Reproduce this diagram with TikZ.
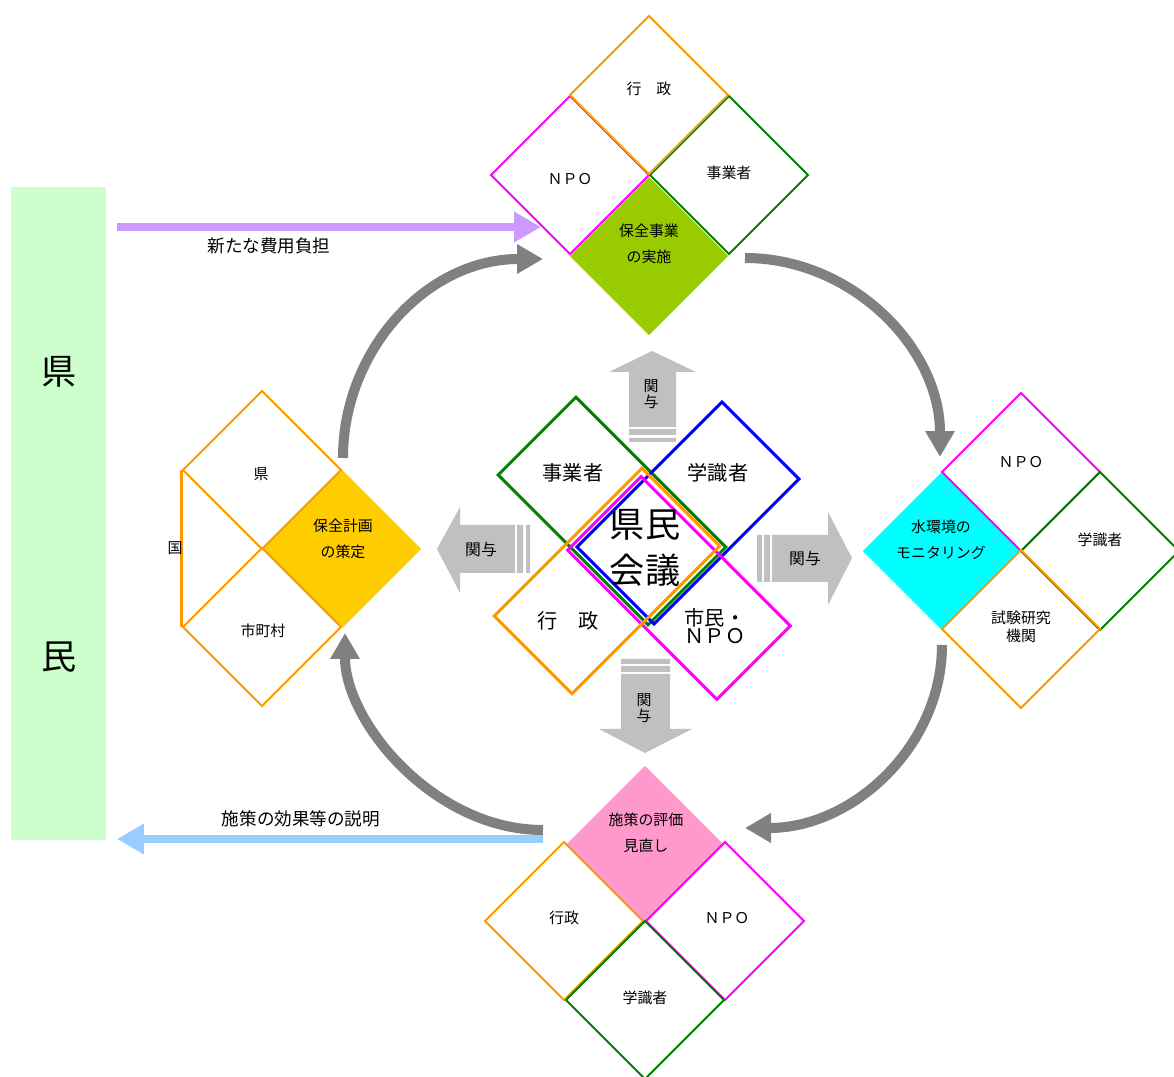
\documentclass[tikz,border=0pt]{standalone}
\usepackage{fontspec}
\setmainfont{Noto Sans CJK JP}
\usetikzlibrary{shapes.geometric,arrows.meta}
\definecolor{gorange}{HTML}{FF9900}
\definecolor{gmagenta}{HTML}{FF00FF}
\definecolor{ggreen}{HTML}{008000}
\definecolor{gblue}{HTML}{0000FF}
\definecolor{fgreen}{HTML}{99CC00}
\definecolor{fyellow}{HTML}{FFCC00}
\definecolor{fcyan}{HTML}{00FFFF}
\definecolor{fpink}{HTML}{FF99CC}
\definecolor{barmint}{HTML}{CCFFCC}
\definecolor{kgray}{HTML}{C0C0C0}
\definecolor{agray}{HTML}{808080}
\definecolor{fpurple}{HTML}{CC99FF}
\definecolor{fsky}{HTML}{99CCFF}

\begin{document}
\begin{tikzpicture}[x=0.02cm, y=-0.02cm,
    dia/.style={diamond, aspect=1, inner sep=0pt, minimum width=3.18cm,
        minimum height=3.18cm, line width=1.1pt},
    cbox/.style={rectangle, inner sep=0pt, line width=1.7pt},
    lbl/.style={inner sep=0pt, align=center, font=\fontsize{8.5}{14.7}\selectfont},
    clbl/.style={inner sep=0pt, align=center, font=\fontsize{11.5}{10.5}\selectfont},
    kanyo/.style={fill=kgray},
    klbl/.style={inner sep=0pt, align=center, font=\fontsize{9}{9}\selectfont},
    garc/.style={draw=agray, line width=5.7pt, -{Triangle[length=0.52cm,width=0.56cm]}},
    flow/.style={line width=5.1pt, -{Triangle[length=0.54cm,width=0.58cm]}},
    alb/.style={inner sep=0pt, font=\fontsize{10}{12}\selectfont}
]
    \path[use as bounding box, fill=white] (0,0) rectangle (1174,1077);

    % side bar
    \node[rectangle, fill=barmint, inner sep=0pt, minimum width=1.9cm,
        minimum height=13.06cm] (kenmin) at (58.5,513.5) {};
    \node[inner sep=0pt, font=\fontsize{20}{20}\selectfont] (l-ken) at (59,372) {県};
    \node[inner sep=0pt, font=\fontsize{20}{20}\selectfont] (l-min) at (59,657) {民};

    % top: 保全事業の実施
    \node[dia, fill=fgreen] (jisshi) at (649,256) {};
    \node[dia, draw=gmagenta] (npo1) at (570,175) {};
    \node[dia, draw=ggreen] (jigyo1) at (729,175) {};
    \node[dia, draw=gorange] (gyosei1) at (649,95) {};
    \node[lbl] (l-gyosei1) at (649,89) {行　政};
    \node[lbl] (l-npo1) at (570,179) {ＮＰＯ};
    \node[lbl] (l-jigyo1) at (729,173) {事業者};
    \node[lbl] (l-jisshi) at (649,244) {保全事業\\の実施};

    % left: 保全計画の策定
    \node[dia, fill=fyellow] (keikaku) at (342,549) {};
    \node[dia, draw=gorange] (ken2) at (262,470) {};
    \node[dia, draw=gorange] (shi2) at (262,627) {};
    \draw[gorange, line width=1.7pt] (ken2.west) -- (shi2.west);
    \node[lbl] (l-kuni) at (175,548) {国};
    \node[lbl] (l-ken2) at (261,474) {県};
    \node[lbl] (l-shi2) at (263,631) {市町村};
    \node[lbl] (l-keikaku) at (343,539) {保全計画\\の策定};

    % right: 水環境のモニタリング
    \node[dia, fill=fcyan] (monitor) at (942,551) {};
    \node[dia, draw=gmagenta] (npo3) at (1021,472) {};
    \node[dia, draw=ggreen] (gaku3) at (1100,551) {};
    \node[dia, draw=gorange] (shiken3) at (1021,629) {};
    \node[lbl] (l-npo3) at (1021,462) {ＮＰＯ};
    \node[lbl] (l-gaku3) at (1100,540) {学識者};
    \node[lbl, font=\fontsize{8.5}{10.2}\selectfont] (l-shiken3) at (1021,627) {試験研究\\機関};
    \node[lbl] (l-monitor) at (941,540) {水環境の\\モニタリング};

    % bottom: 施策の評価見直し
    \node[dia, fill=fpink] (hyoka) at (645,845) {};
    \node[dia, draw=gorange] (gyosei4) at (564,921) {};
    \node[dia, draw=gmagenta] (npo4) at (725,921) {};
    \node[dia, draw=ggreen] (gaku4) at (645,1000) {};
    \node[lbl] (l-gyosei4) at (564,918) {行政};
    \node[lbl] (l-npo4) at (727,918) {ＮＰＯ};
    \node[lbl] (l-gaku4) at (645,998) {学識者};
    \node[lbl] (l-hyoka) at (646,833) {施策の評価\\見直し};

    % center: 県民会議
    \node[cbox, draw=ggreen, rotate=-45, minimum width=4.24cm, minimum height=2.2cm] (c-jigyo) at (612,511) {};
    \node[cbox, draw=gblue, rotate=45, minimum width=4.1cm, minimum height=2.18cm] (c-gaku) at (688,513) {};
    \node[cbox, draw=gmagenta, rotate=-45, minimum width=4.22cm, minimum height=2.08cm] (c-shimin) at (679,588) {};
    \node[cbox, draw=gorange, rotate=45, minimum width=4.18cm, minimum height=2.2cm] (c-gyosei) at (607,581) {};
    \node[clbl] (l-cjigyo) at (573,473) {事業者};
    \node[clbl] (l-cgaku) at (718,473) {学識者};
    \node[clbl] (l-cgyosei) at (568,621) {行　政};
    \node[clbl] (l-cshimin) at (715,626) {市民・\\ＮＰＯ};
    \node[inner sep=0pt, align=center, font=\fontsize{20}{26.6}\selectfont] (kaigi) at (645,548) {県民\\会議};

    % 関与 arrows
    \fill[kanyo] (629,427) -- (629,372) -- (609,372) -- (652,351) -- (696,372) -- (676,372) -- (676,427) -- cycle;
    \fill[kanyo] (629,429) rectangle (676,435) (629,438) rectangle (676,442);
    \fill[kanyo] (621,674) -- (621,729) -- (599,729) -- (645,753) -- (692,729) -- (670,729) -- (670,674) -- cycle;
    \fill[kanyo] (621,659) rectangle (670,664) (621,666) rectangle (670,672);
    \fill[kanyo] (515,525) -- (460,525) -- (460,507) -- (437,549) -- (460,593) -- (460,573) -- (515,573) -- cycle;
    \fill[kanyo] (517,525) rectangle (523,573) (526,525) rectangle (530,573);
    \fill[kanyo] (772,535) -- (828,535) -- (828,512) -- (852,558) -- (828,605) -- (828,582) -- (772,582) -- cycle;
    \fill[kanyo] (757,535) rectangle (762,582) (764,535) rectangle (770,582);
    \node[klbl, font=\fontsize{8.5}{9}\selectfont] (k-up) at (651,394) {関\\与};
    \node[klbl, font=\fontsize{8.5}{9}\selectfont] (k-down) at (644,708) {関\\与};
    \node[klbl] (k-left) at (481,549) {関与};
    \node[klbl] (k-right) at (805,558) {関与};

    % cycle
    \coordinate (a1s) at (343,458);
    \coordinate (a1e) at (543,259);
    \coordinate (a2s) at (745,258);
    \coordinate (a2e) at (940,457);
    \coordinate (a3s) at (942,645);
    \coordinate (a3e) at (745,828);
    \coordinate (a4s) at (543,830);
    \coordinate (a4e) at (345,633);
    \draw[garc] (a1s) .. controls (343,350) and (427,259) .. (a1e);
    \draw[garc] (a2s) .. controls (852,258) and (940,348) .. (a2e);
    \draw[garc] (a3s) .. controls (942,746) and (853,828) .. (a3e);
    \draw[garc] (a4s) .. controls (434,830) and (345,722) .. (a4e);

    % 県民 <-> 事業
    \coordinate (futan-s) at (117,227);
    \coordinate (futan-e) at (541,227);
    \coordinate (setsu-s) at (543,839);
    \coordinate (setsu-e) at (117,839);
    \draw[flow, fpurple] (futan-s) -- (futan-e);
    \draw[flow, fsky] (setsu-s) -- (setsu-e);
    \node[alb] (l-futan) at (269,246) {新たな費用負担};
    \node[alb] (l-setsumei) at (301,819) {施策の効果等の説明};
\end{tikzpicture}
\end{document}
